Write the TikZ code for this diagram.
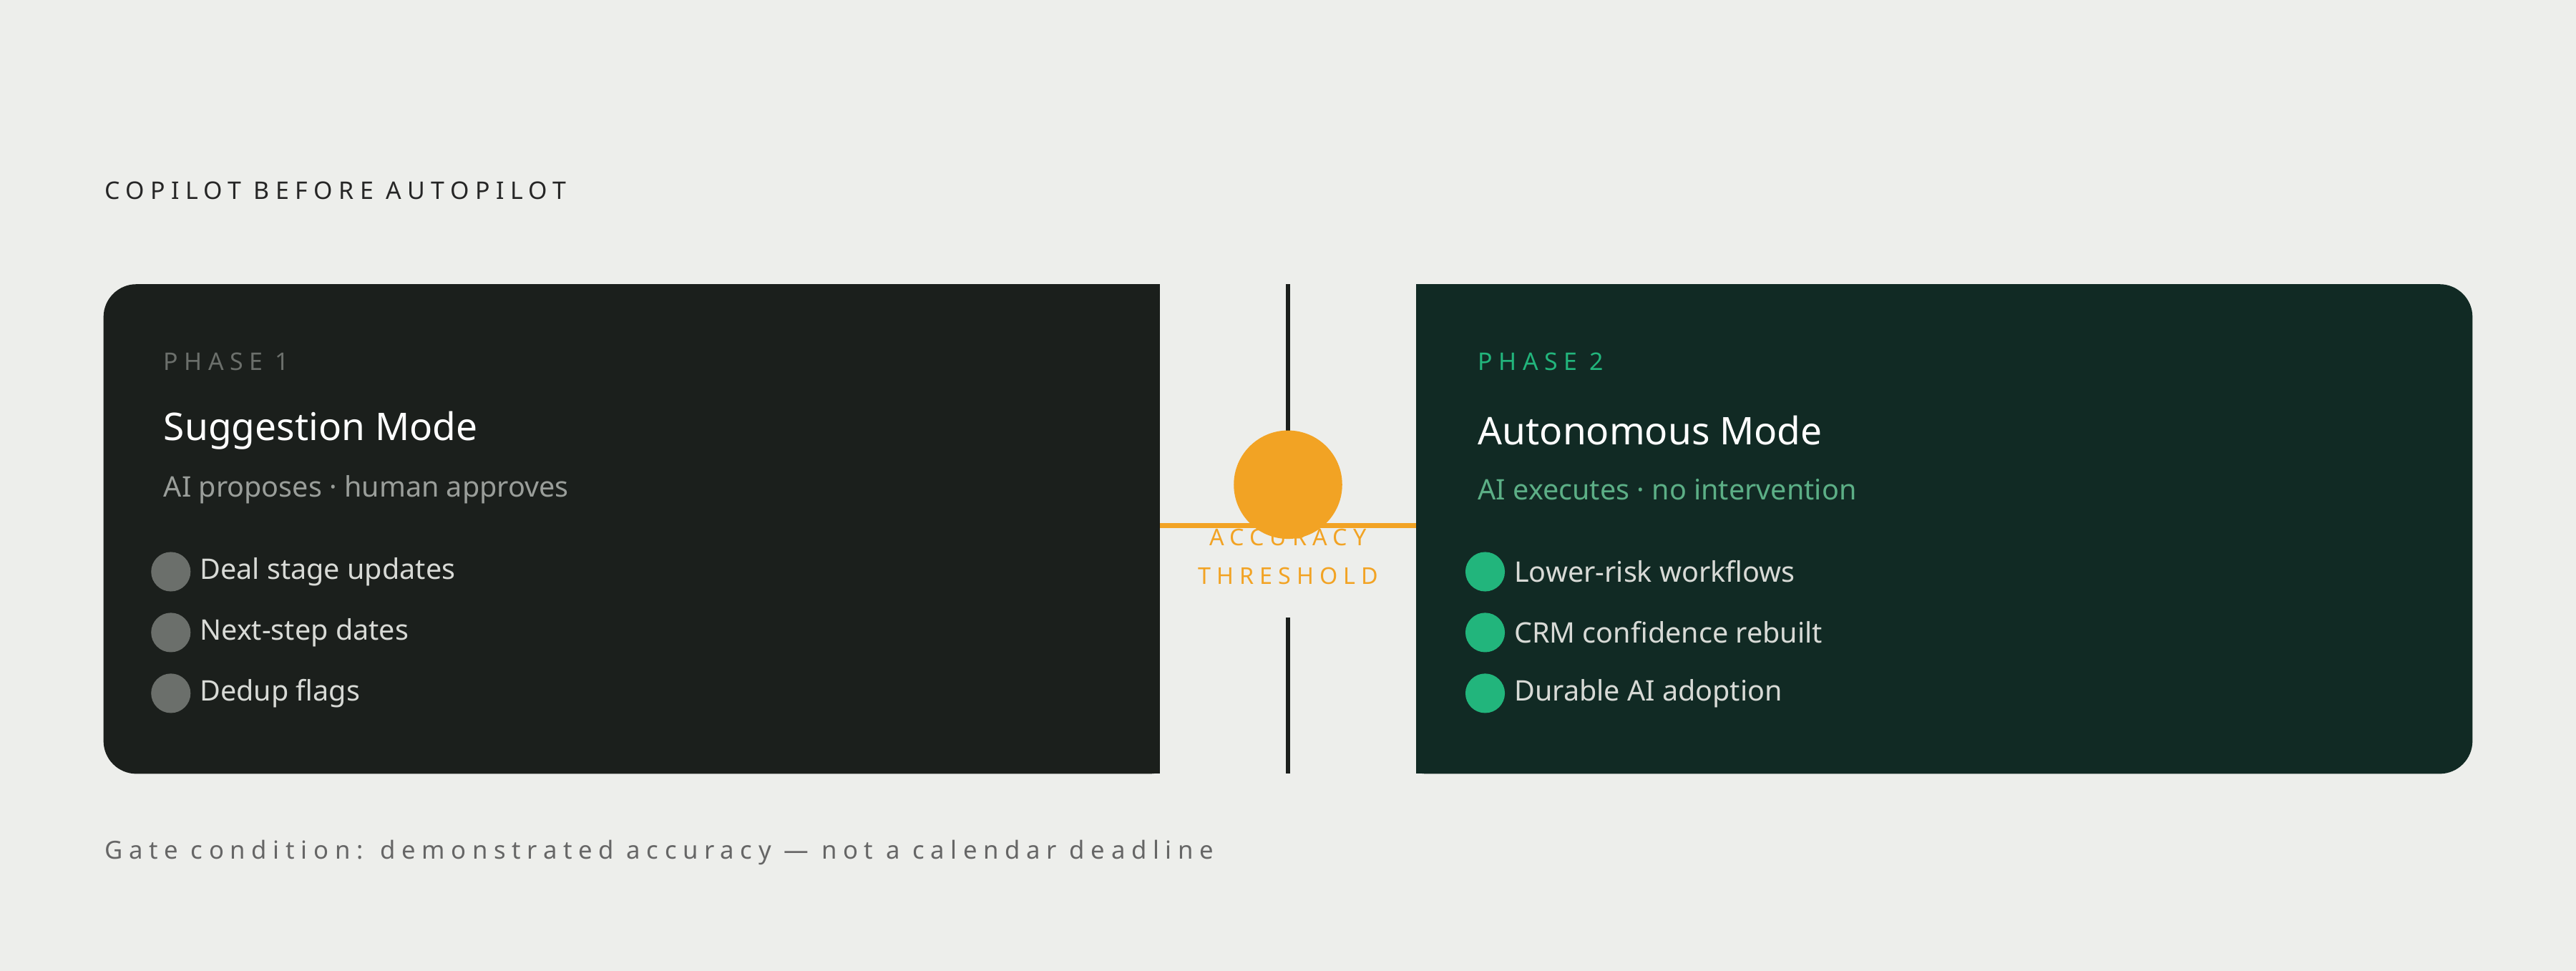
\documentclass[tikz,border=0pt]{standalone}
\usepackage{fontspec}
\setmainfont{Noto Sans}
\newfontfamily\spaced[LetterSpace=25]{Noto Sans}
\usetikzlibrary{positioning}
\definecolor{paper}{HTML}{EDEEEB}
\definecolor{inkdark}{HTML}{1B1F1C}
\definecolor{inkgreen}{HTML}{112A24}
\definecolor{amber}{HTML}{F2A324}
\definecolor{mint}{HTML}{22B57C}
\definecolor{sage}{HTML}{5CAF86}
\definecolor{muted}{HTML}{6B6F6B}
\definecolor{soft}{HTML}{9A9E9A}
\definecolor{pale}{HTML}{D8DAD6}
\begin{document}
\begin{tikzpicture}
  [x=0.1mm, y=-0.1mm,
   label/.style={anchor=west, inner sep=0pt},
   tag/.style={label, font=\spaced\fontsize{4.2}{5}\selectfont},
   heading/.style={label, font=\bfseries\fontsize{6.6}{8}\selectfont, text=white},
   body/.style={label, font=\fontsize{4.9}{6}\selectfont},
   dot/.style={circle, inner sep=0pt, minimum size=2.4mm}]

  \fill[paper] (0,0) rectangle (1568,591);

  \node[tag, text=black!85] (title) at (63,116) {COPILOT BEFORE AUTOPILOT};

  % phase panels
  \fill[inkdark, rounded corners=2mm] (63,173) rectangle (720,471);
  \fill[inkdark] (690,173) rectangle (706,471);
  \fill[paper] (706,173) rectangle (730,471);
  \fill[inkgreen, rounded corners=2mm] (848,173) rectangle (1505,471);
  \fill[paper] (840,173) rectangle (862,471);
  \fill[inkgreen] (862,173) rectangle (880,471);

  % gate
  \coordinate (gtop) at (784,173);
  \coordinate (gtopend) at (784,267);
  \coordinate (gbot) at (784,376);
  \coordinate (gbotend) at (784,471);
  \draw[inkdark, line width=0.3mm] (gtop) -- (gtopend);
  \draw[inkdark, line width=0.3mm] (gbot) -- (gbotend);
  \node[circle, fill=amber, inner sep=0pt, minimum size=6.6mm] (gate) at (784,295) {};
  \coordinate (la) at (706,320); \coordinate (lb) at (776,320);
  \coordinate (ra) at (792,320); \coordinate (rb) at (862,320);
  \draw[amber, line width=0.3mm] (la) -- (lb);
  \draw[amber, line width=0.3mm] (ra) -- (rb);
  \node[font=\spaced\fontsize{4}{5}\selectfont, text=amber, align=center, inner sep=0pt] (thr) at (784,339)
    {ACCURACY\\[0.6mm]THRESHOLD};

  % phase 1
  \node[tag, text=muted] (p1) at (99,220) {PHASE 1};
  \node[heading] (h1) at (99,262) {Suggestion Mode};
  \node[body, text=soft] (s1) at (99,298) {AI proposes · human approves};
  \foreach \y/\t [count=\i] in {348/Deal stage updates, 385/Next-step dates, 422/Dedup flags}{
    \node[dot, fill=muted] (b1\i) at (104,\y) {};
    \node[body, text=pale] (t1\i) at (121,\y) {\t};
  }

  % phase 2
  \node[tag, text=mint] (p2) at (899,220) {PHASE 2};
  \node[heading] (h2) at (899,262) {Autonomous Mode};
  \node[body, text=sage] (s2) at (899,298) {AI executes · no intervention};
  \foreach \y/\t [count=\i] in {348/Lower-risk workflows, 385/CRM confidence rebuilt, 422/Durable AI adoption}{
    \node[dot, fill=mint] (b2\i) at (904,\y) {};
    \node[body, text=pale] (t2\i) at (921,\y) {\t};
  }

  \node[label, font=\fontsize{4.3}{5}\selectfont, text=black!60, /utils/exec=\spaced] (foot) at (63,519)
    {Gate condition: demonstrated accuracy — not a calendar deadline};
\end{tikzpicture}
\end{document}
